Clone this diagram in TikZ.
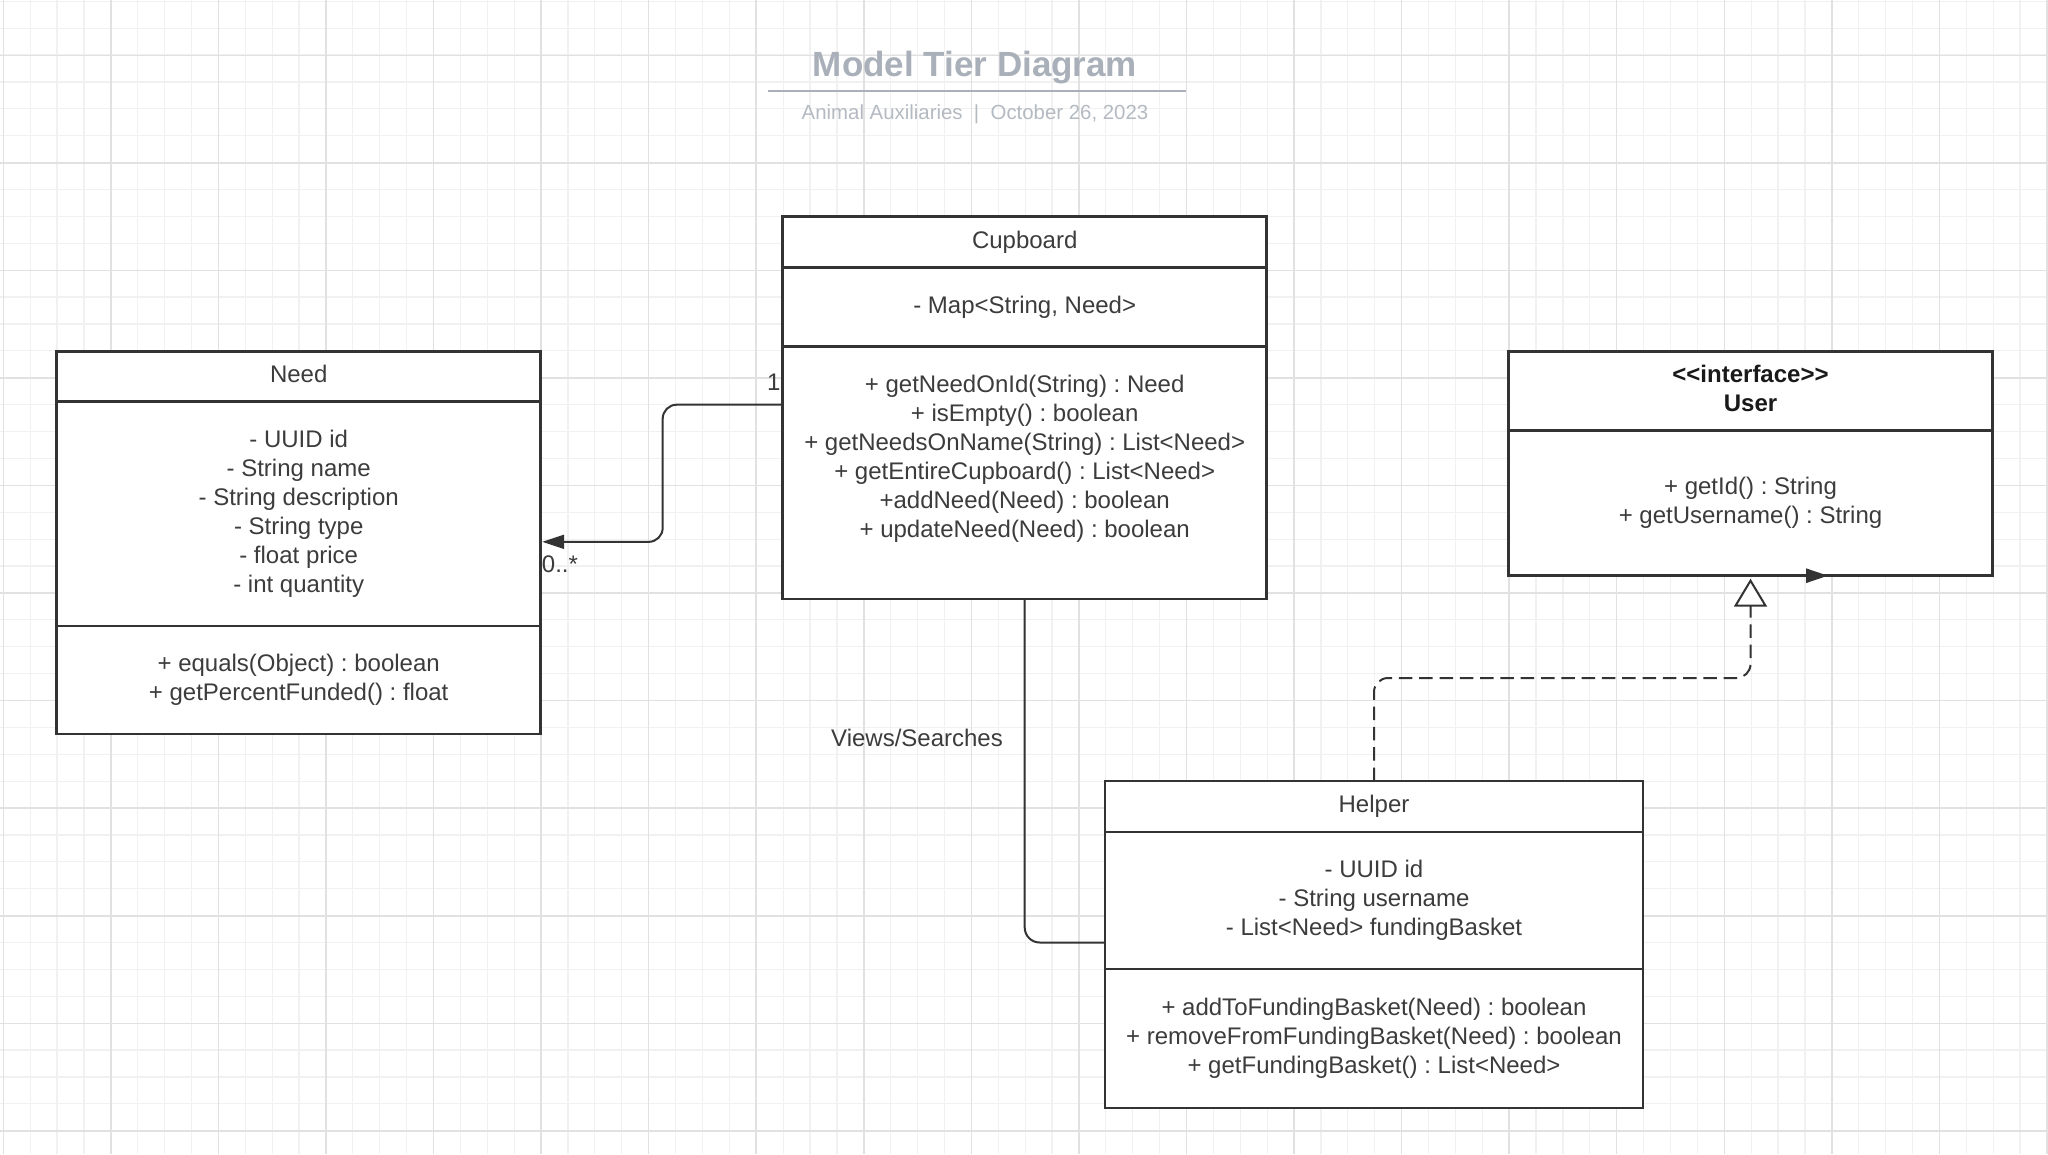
\documentclass[tikz,border=0pt]{standalone}
\usepackage{fontspec}
\setmainfont{Liberation Sans}
\usetikzlibrary{arrows.meta}
\usetikzlibrary{positioning}

\definecolor{inkgray}{HTML}{333333}
\definecolor{textgray}{HTML}{3C3C3C}
\definecolor{titlegray}{HTML}{A9B0B9}
\definecolor{subgray}{HTML}{B4BAC2}
\definecolor{gridminor}{HTML}{F1F1F1}
\definecolor{gridmajor}{HTML}{E1E1E1}

\newcommand{\umlfont}{\fontsize{24}{29}\selectfont\frenchspacing}
\newcommand{\stereo}[1]{<\kern0pt<#1>\kern0pt>}

\tikzset{
  classpart/.style={draw=inkgray, line width=2.7pt, fill=white, text=textgray,
    font=\umlfont, align=center, inner sep=0pt, outer sep=0pt, minimum width=484pt},
  conn/.style={draw=inkgray, line width=2pt},
  lbl/.style={font=\umlfont, text=textgray, inner sep=0pt},
}

\begin{document}
\begin{tikzpicture}[x=1pt,y=-1pt]

    % Canvas and grid
    \useasboundingbox (0,0) rectangle (2048,1154);
    \fill[white] (0,0) rectangle (2048,1154);
    \foreach \i in {0,...,76}
        \draw[gridminor, line width=1.2pt] (3.3+26.89*\i,0) -- (3.3+26.89*\i,1154);
    \foreach \j in {0,...,42}
        \draw[gridminor, line width=1.2pt] (0,1.3+26.89*\j) -- (2048,1.3+26.89*\j);
    \foreach \m in {0,...,19}
        \draw[gridmajor, line width=1.5pt] (3.3+107.56*\m,0) -- (3.3+107.56*\m,1154);
    \foreach \m in {0,...,10}
        \draw[gridmajor, line width=1.5pt] (0,55.3+107.56*\m) -- (2048,55.3+107.56*\m);

    % Title block
    \node[font=\fontsize{35}{40}\selectfont\bfseries, text=titlegray, anchor=base] (title) at (975,76) {Model Tier Diagram};
    \draw[titlegray, line width=2.5pt] (768,91) -- (1186,91);
    \node[font=\fontsize{20.4}{24}\selectfont, text=subgray, anchor=base] (subtitle) at (975,119) {Animal Auxiliaries\ \ |\ \ October 26, 2023};

    % Need class
    \node[classpart, minimum height=50pt, text depth=6pt, anchor=north west] (needTitle) at (56.7,351.7) {Need};
    \node[classpart, minimum height=224.3pt, below=0pt of needTitle] (needAttr) {- UUID id\\- String name\\- String description\\- String type\\- float price\\- int quantity};
    \node[classpart, minimum height=108pt, below=0pt of needAttr] (needMeth) {+ equals(Object) : boolean\\+ getPercentFunded() : float};

    % Cupboard class
    \node[classpart, minimum height=50.6pt, anchor=north west] (cupTitle) at (782.7,216.7) {Cupboard};
    \node[classpart, minimum height=79.4pt, below=0pt of cupTitle] (cupAttr) {- Map<String, Need>};
    \node[classpart, minimum height=252.3pt, below=0pt of cupAttr] (cupMeth) {+ getNeedOnId(String) : Need\\+ isEmpty() : boolean\\+ getNeedsOnName(String) : List<Need>\\+ getEntireCupboard() : List<Need>\\+addNeed(Need) : boolean\\+ updateNeed(Need) : boolean\\[5pt]~};

    % User interface
    \node[classpart, minimum height=79pt, text depth=6pt, font=\umlfont\bfseries, text=black!90, anchor=north west] (userTitle) at (1508.5,351.7) {\stereo{interface}\\User};
    \node[classpart, minimum height=145pt, below=0pt of userTitle] (userMeth) {+ getId() : String\\+ getUsername() : String};

    % Helper class
    \node[classpart, minimum width=538pt, minimum height=51pt, anchor=north west] (helpTitle) at (1105,781) {Helper};
    \node[classpart, minimum width=538pt, minimum height=137pt, below=0pt of helpTitle] (helpAttr) {- UUID id\\- String username\\- List<Need> fundingBasket};
    \node[classpart, minimum width=538pt, minimum height=139pt, below=0pt of helpAttr] (helpMeth) {+ addToFundingBasket(Need) : boolean\\+ removeFromFundingBasket(Need) : boolean\\+ getFundingBasket() : List<Need>};

    % Cupboard holds Needs
    \draw[conn, rounded corners=14pt, shorten >=1.5pt, -{Triangle[length=22pt,width=14pt]}] ([yshift=-58pt]cupMeth.north west) -- ++(-120,0) |- ([yshift=-28pt]needAttr.east);
    \node[lbl, anchor=base east] (multOne) at ([xshift=-2pt,yshift=-44pt]cupMeth.north west) {1};
    \node[lbl, anchor=base west] (multMany) at ([xshift=1pt,yshift=-59pt]needAttr.east) {0..*};

    % Helper views Cupboard
    \draw[conn, rounded corners=15pt] (cupMeth.south) |- ([yshift=-42pt]helpAttr.west);
    \node[lbl] (viewsLabel) at (917,738) {Views/Searches};

    % Helper realizes User
    \draw[conn, dash pattern=on 13.5pt off 6.8pt, rounded corners=14pt, shorten >=3pt, -{Triangle[fill=white,length=28pt,width=33pt]}] (helpTitle.north) -- ++(0,-103) -| (userMeth.south);
    \draw[conn, line width=2.7pt, -{Triangle[length=22pt,width=14pt]}] ([xshift=40pt]userMeth.south) -- ([xshift=77.5pt]userMeth.south);

\end{tikzpicture}
\end{document}
